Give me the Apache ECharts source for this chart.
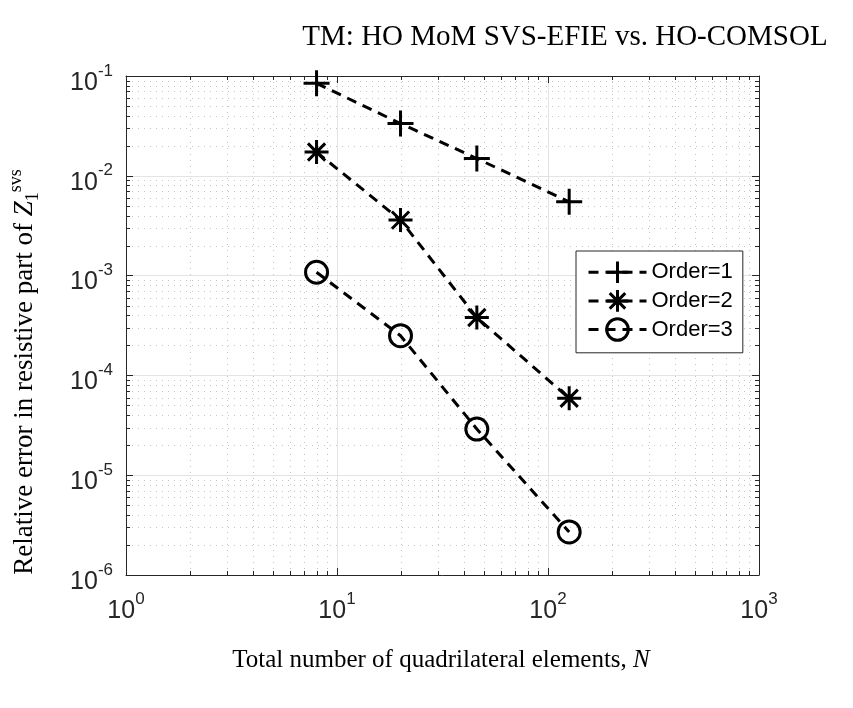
<!DOCTYPE html>
<html>
<head>
<meta charset="utf-8">
<script src="https://cdn.jsdelivr.net/npm/echarts@6/dist/echarts.min.js"></script>
<style>html,body{margin:0;padding:0;background:#fff}#c{width:853px;height:708px}</style>
</head>
<body>
<div id="c"></div>
<script>
// ---- data ----
const N = [8, 20, 46, 126];
const order1 = [0.0845, 0.0334, 0.0149, 0.00548];
const order2 = [0.0173, 0.0036, 0.00038, 0.000059];
const order3 = [0.00108, 0.00025, 0.000029, 0.0000027];
const seriesNames = ['Order=1', 'Order=2', 'Order=3'];
const xTickExps = [0, 1, 2, 3];
const yTickExps = [-6, -5, -4, -3, -2, -1];
const titleText = 'TM: HO MoM SVS-EFIE vs. HO-COMSOL';
const xLabelText = 'Total number of quadrilateral elements, ';
const yLabelText = 'Relative error in resistive part of ';

// minor grid positions (axis structure)
const xMinor = [], yMinor = [];
for (let e = 0; e < 3; e++) for (let k = 2; k <= 9; k++) xMinor.push([k * Math.pow(10, e), 1e-6]);
for (let e = -6; e < -1; e++) for (let k = 2; k <= 9; k++) yMinor.push([1, k * Math.pow(10, e)]);

const sans = 'Liberation Sans';
const serif = 'Liberation Serif';
const AX = '#262626';
const BASE_FS = 25, EXP_FS = 17;

const mctx = document.createElement('canvas').getContext('2d');
function textW(t, fs) { mctx.font = fs + 'px "' + sans + '"'; return mctx.measureText(t).width; }

function minorRender(isX) {
  return function (params, api) {
    const cs = params.coordSys;
    const p = api.coord([api.value(0), api.value(1)]);
    const st = { stroke: '#c4c4c4', lineWidth: 1, lineDash: [1, 5] };
    const tk = { stroke: AX, lineWidth: 1 };
    if (isX) {
      const x = Math.round(p[0]) + 0.5;
      return { type: 'group', children: [
        { type: 'line', shape: { x1: x, y1: cs.y, x2: x, y2: cs.y + cs.height }, style: st },
        { type: 'line', shape: { x1: x, y1: cs.y + cs.height, x2: x, y2: cs.y + cs.height - 4 }, style: tk },
        { type: 'line', shape: { x1: x, y1: cs.y, x2: x, y2: cs.y + 4 }, style: tk }
      ]};
    } else {
      const y = Math.round(p[1]) + 0.5;
      return { type: 'group', children: [
        { type: 'line', shape: { x1: cs.x, y1: y, x2: cs.x + cs.width, y2: y }, style: st },
        { type: 'line', shape: { x1: cs.x, y1: y, x2: cs.x + 4, y2: y }, style: tk },
        { type: 'line', shape: { x1: cs.x + cs.width, y1: y, x2: cs.x + cs.width - 4, y2: y }, style: tk }
      ]};
    }
  };
}

function tickLabelRender(isX) {
  return function (params, api) {
    const p = api.coord([api.value(0), api.value(1)]);
    const exps = isX ? xTickExps : yTickExps;
    const es = String(exps[params.dataIndex]);
    const wb = textW('10', BASE_FS), we = textW(es, EXP_FS);
    let bx, by, ey;
    if (isX) {
      bx = p[0] - (wb + we) / 2; by = p[1] + 36; ey = p[1] + 24;
    } else {
      bx = p[0] - 13 - we - wb; by = p[1] + 7; ey = p[1] - 5;
    }
    return { type: 'group', children: [
      { type: 'text', style: { text: '10', x: bx, y: by, fontSize: BASE_FS, fontFamily: sans, fill: AX, align: 'left', verticalAlign: 'middle' } },
      { type: 'text', style: { text: es, x: bx + wb, y: ey, fontSize: EXP_FS, fontFamily: sans, fill: AX, align: 'left', verticalAlign: 'middle' } }
    ]};
  };
}

const plusPath = 'path://M0,-1L0,1M-1,0L1,0';
const starPath = 'path://M0,-1L0,1M-1,0L1,0M-0.72,-0.72L0.72,0.72M-0.72,0.72L0.72,-0.72';

function lineSeries(name, vals, symbol, size) {
  return {
    name: name, type: 'line', xAxisIndex: 0, yAxisIndex: 0,
    data: N.map((n, i) => [n, vals[i]]),
    symbol: symbol, symbolSize: size, showAllSymbol: true,
    lineStyle: { color: '#000', width: 3, type: [10, 7] },
    itemStyle: { color: 'rgba(0,0,0,0)', borderColor: '#000', borderWidth: 3 },
    z: 5, animation: false, clip: false
  };
}

const chart = echarts.init(document.getElementById('c'), null, { renderer: 'canvas' });
const axisCommon = {
  type: 'log', logBase: 10,
  axisLine: { show: true, onZero: false, lineStyle: { color: AX, width: 1 } },
  axisTick: { show: true, inside: true, length: 7, lineStyle: { color: AX } },
  axisLabel: { show: false },
  minorTick: { show: false }
};
chart.setOption({
  animation: false,
  backgroundColor: '#fff',
  grid: { left: 126, top: 76, right: 94, bottom: 133, containLabel: false },
  xAxis: [
    Object.assign({}, axisCommon, {
      position: 'bottom', min: 1, max: 1000, interval: 1,
      splitLine: { show: true, lineStyle: { color: '#e3e3e3', width: 1 } }
    }),
    Object.assign({}, axisCommon, {
      position: 'top', min: 1, max: 1000, interval: 1, splitLine: { show: false }
    })
  ],
  yAxis: [
    Object.assign({}, axisCommon, {
      position: 'left', min: 1e-6, max: 1e-1, interval: 1,
      splitLine: { show: true, lineStyle: { color: '#e3e3e3', width: 1 } }
    }),
    Object.assign({}, axisCommon, {
      position: 'right', min: 1e-6, max: 1e-1, interval: 1, splitLine: { show: false }
    })
  ],
  legend: {
    orient: 'vertical', left: 576, top: 251,
    data: seriesNames,
    itemWidth: 58, itemHeight: 27, itemGap: 4,
    padding: [9, 10, 11, 11],
    backgroundColor: '#fff', borderColor: AX, borderWidth: 1,
    itemStyle: { color: 'rgba(0,0,0,0)', borderColor: '#000', borderWidth: 3 },
    lineStyle: { color: '#000', width: 3 },
    textStyle: { fontFamily: sans, fontSize: 22, color: '#000' }
  },
  series: [
    { type: 'custom', name: 'xminor', data: xMinor, renderItem: minorRender(true), z: 1, silent: true, animation: false },
    { type: 'custom', name: 'yminor', data: yMinor, renderItem: minorRender(false), z: 1, silent: true, animation: false },
    { type: 'custom', name: 'xticklabels', data: xTickExps.map(e => [Math.pow(10, e), 1e-6]), renderItem: tickLabelRender(true), z: 6, silent: true, clip: false, animation: false },
    { type: 'custom', name: 'yticklabels', data: yTickExps.map(e => [1, Math.pow(10, e)]), renderItem: tickLabelRender(false), z: 6, silent: true, clip: false, animation: false },
    lineSeries(seriesNames[0], order1, plusPath, 26),
    lineSeries(seriesNames[1], order2, starPath, 24),
    lineSeries(seriesNames[2], order3, 'circle', 22)
  ],
  graphic: [
    { type: 'text', z: 10, style: {
        text: titleText, fontFamily: serif, fontSize: 29, fill: '#000',
        x: 565, y: 37, align: 'center', verticalAlign: 'middle' } },
    { type: 'text', z: 10, style: {
        text: '{n|' + xLabelText + '}{i|N}',
        rich: { n: { fontFamily: serif, fontSize: 25, fill: '#000' }, i: { fontFamily: serif, fontStyle: 'italic', fontSize: 25, fill: '#000' } },
        x: 441, y: 660, align: 'center', verticalAlign: 'middle' } },
    { type: 'text', z: 10, rotation: Math.PI / 2, x: 25, y: 372, style: {
        text: '{n|' + yLabelText + '}{i|Z}{sub|1}{sup|svs}',
        rich: {
          n: { fontFamily: serif, fontSize: 27, fill: '#000', lineHeight: 27, verticalAlign: 'bottom' },
          i: { fontFamily: serif, fontStyle: 'italic', fontSize: 27, fill: '#000', lineHeight: 27, verticalAlign: 'bottom' },
          sub: { fontFamily: serif, fontSize: 18, fill: '#000', lineHeight: 18, verticalAlign: 'bottom', padding: [0, 0, -4, 0] },
          sup: { fontFamily: serif, fontSize: 18, fill: '#000', lineHeight: 18, verticalAlign: 'bottom', padding: [0, 0, 13, 0] }
        },
        x: 0, y: 0, align: 'center', verticalAlign: 'middle' } }
  ]
});
</script>
</body>
</html>
